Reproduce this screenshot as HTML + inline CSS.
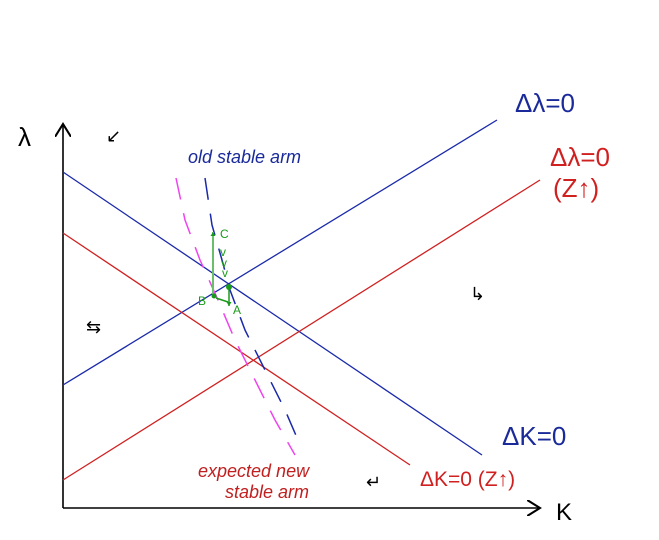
<!DOCTYPE html>
<html><head><meta charset="utf-8"><style>
html,body{margin:0;padding:0;background:#fff;}
svg{display:block;}
text{font-family:"Liberation Sans",sans-serif;}
</style></head><body>
<svg id="c" width="659" height="540" viewBox="0 0 659 540">
<defs>
<marker id="ah" markerWidth="10" markerHeight="10" refX="8" refY="5" orient="auto"><path d="M0,0 L8,5 L0,10" fill="none" stroke="#000" stroke-width="1.3"/></marker>
<marker id="ag" markerWidth="5" markerHeight="5" refX="4" refY="2.5" orient="auto" markerUnits="userSpaceOnUse"><path d="M0,0 L4,2.5 L0,5 Z" fill="#1a9a1a"/></marker>
</defs>
<g>
<line x1="63" y1="508" x2="63" y2="124" stroke="#000" stroke-width="1.6" marker-end="url(#ah)"/>
<line x1="63" y1="508" x2="540" y2="508" stroke="#000" stroke-width="1.6" marker-end="url(#ah)"/>
<text x="18" y="146" font-size="26" font-family="Liberation Serif">λ</text>
<text x="556" y="520" font-size="24">K</text>
</g>
<g id="lines"></g>
<g id="curves"></g>
<g font-size="26">
<text x="515" y="112" fill="#1a2a9a">Δλ=0</text>
<text x="550" y="166" fill="#d02020">Δλ=0</text>
<text x="553" y="197" fill="#d02020">(Z↑)</text>
<text x="502" y="445" fill="#1a2a9a">ΔK=0</text>
<text x="420" y="486" fill="#d02020" font-size="21">ΔK=0 (Z↑)</text>
<text x="188" y="163" fill="#1a2a9a" font-size="18" font-style="italic">old stable arm</text>
<text x="198" y="477" fill="#c02020" font-size="18" font-style="italic">expected new</text>
<text x="225" y="498" fill="#c02020" font-size="18" font-style="italic">stable arm</text>
</g>
<g font-size="18" fill="#000">
<text x="106" y="142">↙</text>
<text x="86" y="333">⇆</text>
<text x="470" y="300">↳</text>
<text x="366" y="488">↵</text>
</g>
<g fill="#1a9a1a" font-size="12">
<line x1="213" y1="297" x2="213" y2="232" stroke="#6ac06a" stroke-width="2" marker-end="url(#ag)"/>
<line x1="229" y1="287" x2="229" y2="306" stroke="#1a9a1a" stroke-width="1.5" marker-end="url(#ag)"/>
<line x1="228" y1="302" x2="216" y2="298" stroke="#1a9a1a" stroke-width="1.5"/>
<circle cx="229" cy="287" r="3"/>
<circle cx="214" cy="296" r="2.5"/>
<text x="220" y="238">C</text>
<text x="198" y="305">B</text>
<text x="233" y="314">A</text>
<text x="220" y="256">v</text>
<text x="221" y="267">v</text>
<text x="222" y="277">v</text>
</g>
</svg>
<script>
// line endpoints (in chart coords: x = K, y = lambda)
const lineNames = ["dk-old","dlambda-old","dk-new","dlambda-new"];
const lineStart = [[0,335],[0,122],[0,274],[0,27]];
const lineEnd = [[419,52],[434,387],[347,42],[477,327]];
const lineColors = ["#1a2aaa","#1a2aaa","#d02020","#d02020"];
const oldArm = [[142,329],[149,282],[159,247],[167,217],[182,177],[202,137],[222,97],[235,67]];
const newArm = [[113,329],[122,287],[137,247],[155,207],[172,167],[192,127],[212,87],[232,52]];
const X0=63, Y0=507;
const sx = v => X0 + v, sy = v => Y0 - v;
const ns="http://www.w3.org/2000/svg";
const lg=document.getElementById('lines');
lineNames.forEach((n,i)=>{
  const l=document.createElementNS(ns,'line');
  l.setAttribute('x1',sx(lineStart[i][0]));l.setAttribute('y1',sy(lineStart[i][1]));
  l.setAttribute('x2',sx(lineEnd[i][0]));l.setAttribute('y2',sy(lineEnd[i][1]));
  l.setAttribute('stroke',lineColors[i]);l.setAttribute('stroke-width','1.3');
  
  
  lg.appendChild(l);
});
const cg=document.getElementById('curves');
function curve(pts,color,name){
  const p=document.createElementNS(ns,'polyline');
  p.setAttribute('points',pts.map(q=>sx(q[0])+','+sy(q[1])).join(' '));
  p.setAttribute('fill','none');p.setAttribute('stroke',color);p.setAttribute('stroke-width','1.5');
  p.setAttribute('stroke-dasharray','22 14');p.setAttribute('stroke-linejoin','round');
  
  
  cg.appendChild(p);
}
curve(oldArm,'#1a2aaa','old-stable-arm');
curve(newArm,'#ee44ee','expected-new-stable-arm');
</script>
</body></html>
